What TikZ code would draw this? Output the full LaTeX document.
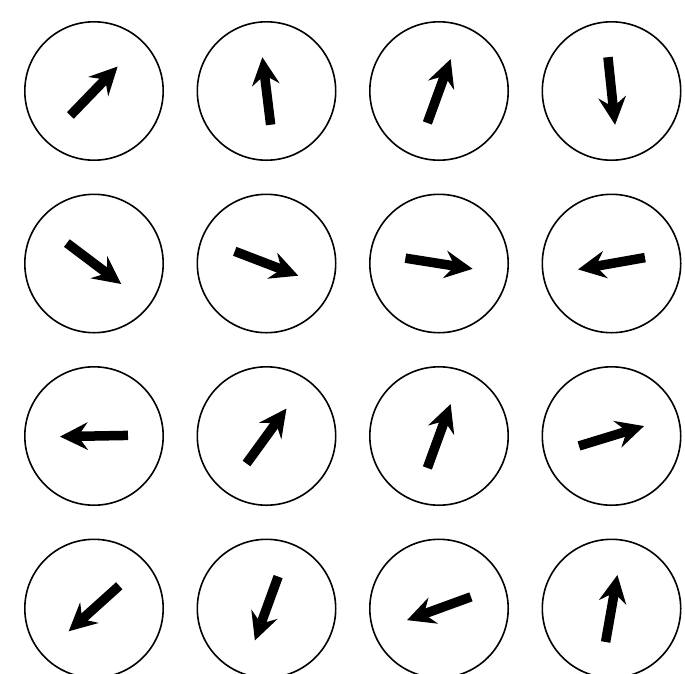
\documentclass[tikz,border=0pt]{standalone}
\usetikzlibrary{arrows.meta}
\begin{document}
\begin{tikzpicture}[x=1pt,y=-1pt,
  dial/.style={circle, draw=black, line width=1.6pt, minimum size=138.4pt, inner sep=0pt},
  needle/.style={line width=9.5pt, -{Stealth[length=28pt,width=28pt,inset=10pt,line width=0pt]}}]
\clip (0,0) rectangle (685,673);
\useasboundingbox (0,0) rectangle (685,673);
\foreach \ang [count=\i from 0] in {46,97,70,-84, -37,-21,-9,190, 181,54,70,17, 222,250,200,80} {
  \pgfmathtruncatemacro\col{mod(\i,4)}
  \pgfmathtruncatemacro\row{div(\i,4)}
  \node[dial] (d\i) at (94+172.5*\col, 91+172.5*\row) {};
  \draw[needle] (d\i.center) ++(\ang+180:34pt) -- ++(\ang:68pt);
}
\end{tikzpicture}
\end{document}
